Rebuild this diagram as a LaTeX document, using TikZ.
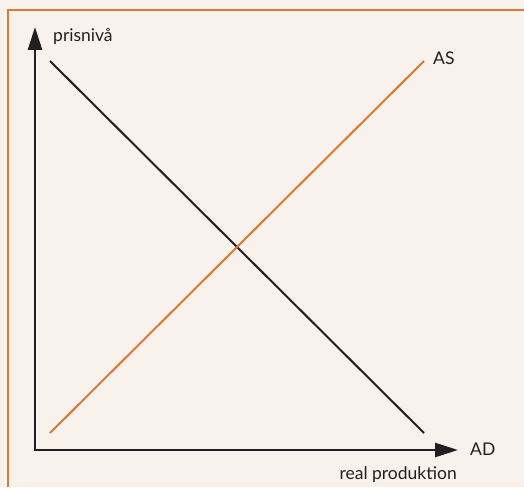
\documentclass[tikz,border=0pt]{standalone}
\usepackage{fontspec}
\setmainfont{Lato}
\usetikzlibrary{arrows.meta}
\definecolor{bgc}{HTML}{F8F1EC}
\definecolor{orng}{HTML}{D9793A}
\definecolor{blk}{HTML}{231F20}
\begin{document}
\begin{tikzpicture}[x=1pt,y=-1pt,
  axis/.style={draw=blk,line width=2.6pt,-{Triangle[length=23pt,width=14pt]}},
  curve/.style={line width=2pt},
  lbl/.style={text=blk,font=\fontsize{17.5}{20}\selectfont,inner sep=0pt}]
\useasboundingbox (0,0) rectangle (524,487);
\fill[bgc] (0,0) rectangle (524,487);
\draw[orng,line width=2.2pt] (8,487) -- (8,10) -- (524,10);
\coordinate (O) at (35,450);
\coordinate (Ytip) at (35,27);
\coordinate (Xtip) at (458,450);
\draw[axis] (O) -- (Ytip);
\draw[axis] ([xshift=-1.3pt]O) -- (Xtip);
\coordinate (d1) at (50,61);
\coordinate (d2) at (424,433);
\coordinate (s1) at (50,433);
\coordinate (s2) at (424,61);
\draw[curve,blk] (d1) -- (d2);
\draw[curve,orng] (s1) -- (s2);
\node[lbl,anchor=west] (py) at (53,36) {prisnivå};
\node[lbl,anchor=west] (as) at (433,58) {AS};
\node[lbl,anchor=west] (ad) at (470,449) {AD};
\node[lbl,anchor=east] (rp) at (457,475) {real produktion};
\end{tikzpicture}
\end{document}
